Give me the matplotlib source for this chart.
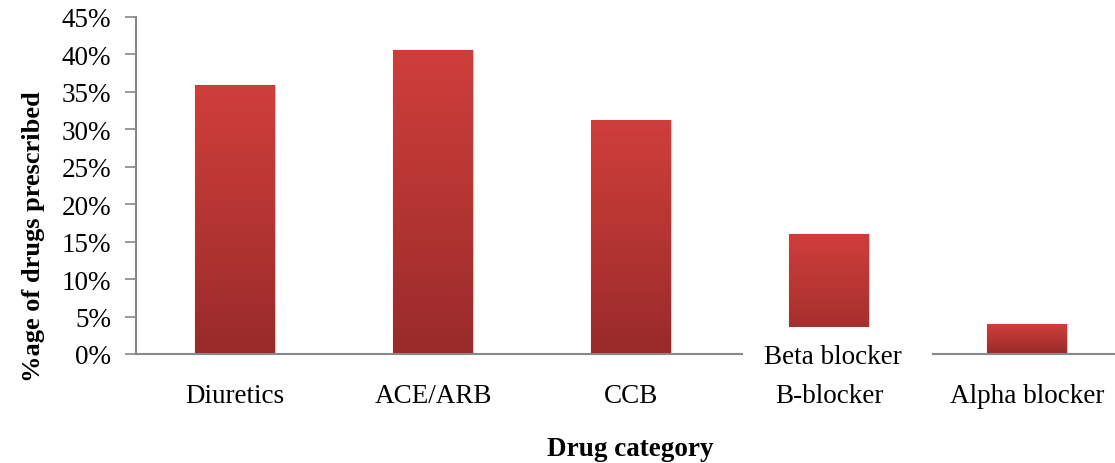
import numpy as np
import matplotlib
matplotlib.use("Agg")
import matplotlib.pyplot as plt
from matplotlib.colors import LinearSegmentedColormap
from matplotlib.ticker import FuncFormatter

categories = ["Diuretics", "ACE/ARB", "CCB", "B-blocker", "Alpha blocker"]
percent_prescribed = [35.9, 40.6, 31.3, 16.0, 4.0]
y_ticks = [0, 5, 10, 15, 20, 25, 30, 35, 40, 45]

plt.rcParams["font.family"] = ["Liberation Serif", "DejaVu Serif"]
FS = 19.5

fig = plt.figure(figsize=(11.15, 4.64), dpi=100)
ax = fig.add_axes([136 / 1115, 109 / 464, 990 / 1115, 337 / 464])

x = np.arange(len(categories))
bar_width = 0.40
bars = ax.bar(x, percent_prescribed, width=bar_width, color="none", edgecolor="none", zorder=2)

# vertical red gradient inside every bar: lighter at the top, darker at the base
grad_cmap = LinearSegmentedColormap.from_list("bar_red", ["#982a2a", "#b53532", "#cf3e3b"])
grad = np.linspace(0, 1, 256).reshape(-1, 1)
for b in bars:
    x0, y0 = b.get_x(), b.get_y()
    w, h = b.get_width(), b.get_height()
    im = ax.imshow(grad, cmap=grad_cmap, origin="lower", aspect="auto",
                   extent=[x0, x0 + w, y0, y0 + h], zorder=2, interpolation="bilinear")
    im.set_clip_path(b)
    # faint shadow outline
    ax.add_patch(plt.Rectangle((x0, y0), w, h, fill=False, edgecolor="#dccccc",
                               linewidth=1.0, zorder=1.5))

ax.set_xlim(-0.5, len(categories) - 0.5)
ax.set_ylim(0, 45)
ax.set_yticks(y_ticks)
ax.yaxis.set_major_formatter(FuncFormatter(lambda v, p: f"{int(round(v))}%"))

ax.set_xticks(x)
ax.set_xticklabels(categories, fontsize=FS)
ax.tick_params(axis="x", length=0, pad=21)
ax.tick_params(axis="y", length=8, width=1.2, color="#888888", labelsize=FS, pad=10)

for side in ("top", "right"):
    ax.spines[side].set_visible(False)
for side in ("left", "bottom"):
    ax.spines[side].set_color("#888888")
    ax.spines[side].set_linewidth(1.5)
    ax.spines[side].set_zorder(3)

# white label box over the base of the Beta blocker column
box_x = 3.045
ax.add_patch(plt.Rectangle((box_x - 0.477, -3.5), 0.954, 7.1, facecolor="white",
                           edgecolor="none", zorder=4, clip_on=False))
ax.text(3.02, -0.3, "Beta blocker", ha="center", va="center", fontsize=FS, zorder=5)

ax.set_ylabel("%age of drugs prescribed", fontsize=19, fontweight="bold")
ax.set_xlabel("Drug category", fontsize=FS, fontweight="bold")
ax.xaxis.set_label_coords((630 - 136) / 990, -0.243)
ax.yaxis.set_label_coords(-(136 - 45) / 990, (355 - 237) / 337)

fig.savefig("out.png", dpi=100, facecolor="white")
